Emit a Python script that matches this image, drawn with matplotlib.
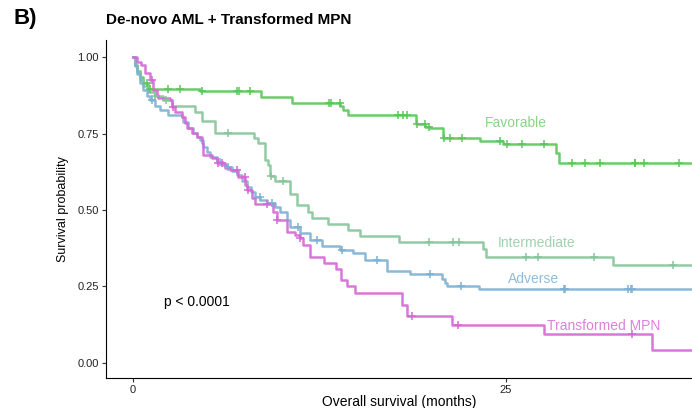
"""
De-novo AML + Transformed MPN: Kaplan-Meier görbék
"""

import matplotlib.pyplot as plt
import numpy as np

plt.rcParams['font.family'] = ['Liberation Sans', 'DejaVu Sans']

# Favorable
fav_t = [0, 0.13, 0.3, 0.5, 0.7, 1.0, 4.5, 8.6, 10.7, 13.9, 14.1, 14.4, 19.0, 19.6, 19.9, 20.8, 23.3, 24.8,
         28.4, 28.6, 40]
fav_s = [1.0, 0.975, 0.955, 0.935, 0.915, 0.895, 0.889, 0.87, 0.85, 0.84, 0.827, 0.81, 0.781, 0.772, 0.768,
         0.735, 0.725, 0.716, 0.685, 0.654, 0.654]
fav_c = [0.94, 1.14, 2.35, 3.15, 4.62, 6.97, 7.1, 7.84, 13.14, 13.27, 13.87, 17.76, 18.1, 18.36, 19.03, 19.57,
         19.84, 20.9, 21.25, 22.1, 24.6, 25.07, 26.07, 27.55, 29.42, 30.3, 31.3, 33.65, 33.7, 34.3, 36.6]

# Intermediate
int_t = [0, 0.13, 0.27, 0.47, 0.67, 1.01, 1.47, 2.01, 2.61, 4.16, 4.62, 5.5, 8.11, 8.38, 8.85, 9.05, 9.18,
         9.52, 10.52, 10.99, 11.73, 12.0, 13.07, 14.41, 15.21, 17.83, 23.46, 23.66, 32.17, 40]
int_s = [1.0, 0.974, 0.951, 0.925, 0.905, 0.886, 0.873, 0.859, 0.84, 0.82, 0.791, 0.752, 0.735, 0.719, 0.663,
         0.647, 0.611, 0.595, 0.553, 0.516, 0.493, 0.474, 0.454, 0.435, 0.415, 0.395, 0.373, 0.346, 0.32, 0.32]
int_c = [1.5, 2.2, 6.36, 9.25, 10.05, 19.84, 21.45, 21.9, 26.4, 27.14, 30.9, 36.2]

# Adverse
adv_t = [0, 0.13, 0.27, 0.47, 0.67, 0.94, 1.14, 1.47, 1.81, 2.35, 3.28, 3.35, 3.69, 4.02, 4.29, 4.49, 4.69,
         4.96, 5.16, 5.63, 5.97, 6.3, 6.64, 6.97, 7.31, 7.64, 7.91, 8.18, 8.51, 8.98, 9.52, 9.85, 10.32, 10.52,
         11.19, 11.86, 12.67, 13.87, 14.75, 15.55, 17.02, 18.57, 20.71, 20.91, 21.05, 23.19, 40]
adv_s = [1.0, 0.971, 0.944, 0.915, 0.892, 0.873, 0.859, 0.84, 0.827, 0.81, 0.804, 0.788, 0.768, 0.752, 0.739,
         0.729, 0.706, 0.69, 0.673, 0.657, 0.647, 0.641, 0.627, 0.614, 0.595, 0.575, 0.559, 0.542, 0.533, 0.523,
         0.51, 0.493, 0.467, 0.444, 0.425, 0.402, 0.382, 0.369, 0.359, 0.337, 0.301, 0.291, 0.275, 0.261, 0.252,
         0.242, 0.242]
adv_c = [1.27, 5.83, 6.4, 8.5, 9.3, 11.06, 12.33, 14.0, 16.35, 19.9, 22.0, 28.9, 29.0, 33.2, 33.4, 33.5]

# Transformed MPN
mpn_t = [0, 0.27, 0.54, 0.8, 1.14, 1.34, 1.61, 1.68, 2.48, 2.61, 2.82, 3.28, 3.49, 3.62, 3.95, 4.29, 4.62,
         4.69, 5.29, 5.63, 6.17, 6.5, 7.04, 7.51, 7.64, 7.98, 8.18, 9.38, 9.65, 10.32, 10.86, 11.19, 11.39, 11.86,
         12.8, 13.61, 13.94, 14.34, 14.88, 18.03, 18.36, 21.38, 27.55, 34.85, 40]
mpn_s = [1.0, 0.984, 0.974, 0.948, 0.925, 0.892, 0.876, 0.866, 0.859, 0.837, 0.82, 0.804, 0.784, 0.768, 0.752,
         0.739, 0.719, 0.68, 0.67, 0.654, 0.637, 0.631, 0.608, 0.582, 0.565, 0.539, 0.52, 0.493, 0.467, 0.428,
         0.418, 0.408, 0.386, 0.346, 0.327, 0.307, 0.271, 0.252, 0.229, 0.19, 0.154, 0.124, 0.095, 0.042, 0.042]
mpn_c = [1.27, 2.7, 5.7, 6.0, 7.0, 7.5, 7.7, 9.0, 9.65, 11.2, 18.7, 21.8, 33.5]

groups = ['Favorable', 'Intermediate', 'Adverse', 'Transformed MPN']
line_col = ['#5cc65c', '#86c59a', '#7db1d3', '#d667d6']
text_col = ['#8ad48a', '#9fd2ae', '#8dbcdb', '#df7fdf']
label_xy = [(25.7, 0.785), (27.1, 0.392), (26.9, 0.275), (31.6, 0.12)]

curves = [(fav_t, fav_s, fav_c), (int_t, int_s, int_c), (adv_t, adv_s, adv_c), (mpn_t, mpn_s, mpn_c)]

fig = plt.figure(figsize=(6.92, 4.08), dpi=100)
ax = fig.add_axes([0.153, 0.074, 0.847, 0.828])

for (t, s, c), col, tcol, name, (lx, ly) in zip(curves, line_col, text_col, groups, label_xy):
    t = np.array(t)
    s = np.array(s)
    ax.step(t, s, where='post', color=col, lw=1.8, alpha=0.9, zorder=3)
    # cenzúrázott megfigyelések
    c = np.array(c)
    cs = s[np.searchsorted(t, c, side='right') - 1]
    ax.plot(c, cs, '+', color=col, ms=6, mew=1.1, zorder=4)
    ax.text(lx, ly, name, color=tcol, fontsize=10, ha='center', va='center')

ax.text(2.1, 0.2, 'p < 0.0001', fontsize=10, ha='left', va='center')

ax.set_xlim(-1.81, 37.5)
ax.set_ylim(-0.049, 1.056)
ax.set_xticks([0, 25])
ax.set_yticks([0, 0.25, 0.5, 0.75, 1.0])
ax.set_yticklabels(['0.00', '0.25', '0.50', '0.75', '1.00'])
ax.tick_params(labelsize=8, length=3, pad=2, color='#333333', labelcolor='#222222')
ax.spines['top'].set_visible(False)
ax.spines['right'].set_visible(False)
ax.set_xlabel('Overall survival (months)', fontsize=10, labelpad=0)
ax.set_ylabel('Survival probability', fontsize=9, labelpad=6)

fig.text(0.153, 0.95, 'De-novo AML + Transformed MPN', fontsize=11, fontweight='bold', ha='left', va='center')
fig.text(0.02, 0.955, 'B)', fontsize=16, fontweight='bold', ha='left', va='center')

fig.savefig('out.png', dpi=100)
